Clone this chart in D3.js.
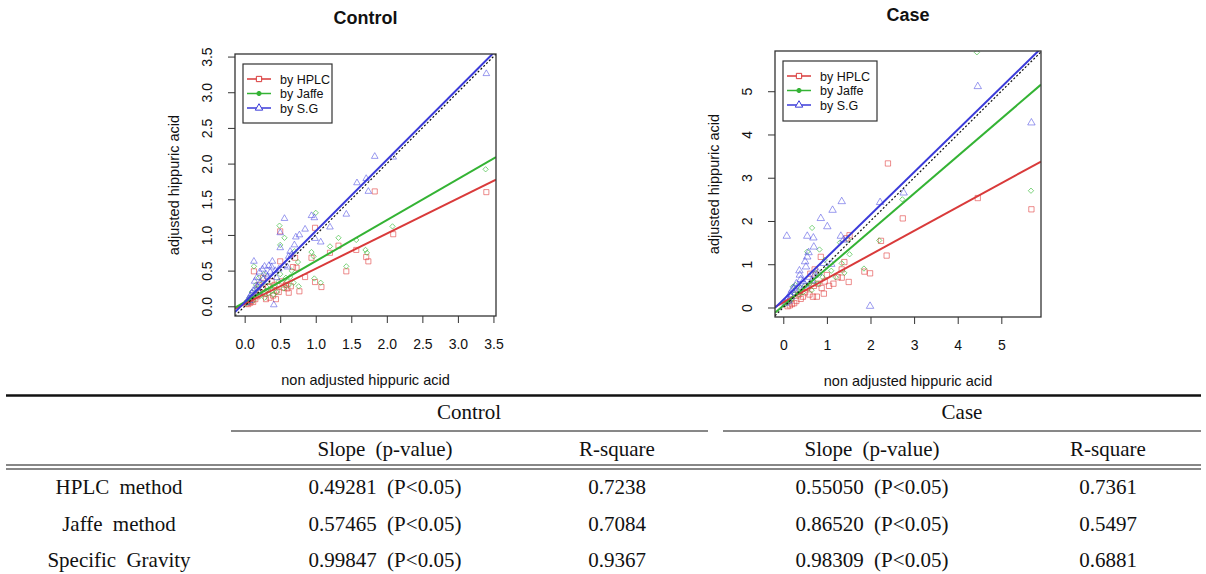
<!DOCTYPE html>
<html>
<head>
<meta charset="utf-8">
<script src="https://cdn.jsdelivr.net/npm/d3@7"></script>
<style>
  body { margin: 0; background: #fff; }
  .plot text { font-family: "Liberation Sans", Arial, sans-serif; fill: #111; }
  .tbl text { font-family: "Liberation Serif", "Times New Roman", serif; font-size: 21px; fill: #111; word-spacing: 5px; }
</style>
</head>
<body>
<div id="chart"></div>
<script>
////////////////////////////////////////////////////////////////////
////////////////////////////  Data  ////////////////////////////////
// points: [non adjusted, adjusted]
const controlHPLC = [[3.40,1.60],[1.83,1.61],[2.09,1.01],[1.57,0.79],[1.71,0.69],[1.74,0.63],[1.32,0.85],[1.43,0.49],[1.20,0.75],[0.94,0.68],[0.99,1.10],[0.99,0.34],[1.08,0.27],[0.50,1.05],[0.50,0.63],[0.71,0.68],[0.85,0.41],[0.77,0.21],[0.62,0.19],[0.13,0.49],[0.73,0.54],[0.68,0.55],[0.55,0.26],[0.45,0.22],[0.40,0.15],[0.30,0.10],[0.28,0.18],[0.35,0.12],[0.25,0.25],[0.20,0.30],[0.18,0.14],[0.15,0.10],[0.12,0.06],[0.08,0.05],[0.05,0.03],[0.10,0.08],[0.22,0.20],[0.33,0.27],[0.42,0.30],[0.48,0.20],[0.58,0.30],[0.65,0.28],[0.38,0.35],[0.60,0.25],[0.03,0.04],[0.07,0.07],[0.16,0.16],[0.26,0.40],[0.52,0.35],[0.44,0.10]];
const controlJaffe = [[3.39,1.92],[2.08,1.12],[1.70,0.79],[1.72,0.75],[1.57,0.93],[1.32,0.96],[1.20,0.84],[1.00,1.31],[0.94,0.76],[0.97,0.70],[0.98,0.39],[1.07,0.33],[1.43,0.56],[0.49,1.13],[0.56,0.96],[0.50,0.86],[0.70,0.77],[0.13,0.56],[0.50,0.45],[0.64,0.41],[0.69,0.33],[0.76,0.28],[0.62,0.30],[0.55,0.25],[0.45,0.20],[0.40,0.16],[0.30,0.22],[0.28,0.12],[0.35,0.30],[0.20,0.40],[0.25,0.32],[0.18,0.25],[0.15,0.18],[0.10,0.20],[0.08,0.10],[0.05,0.06],[0.12,0.08],[0.22,0.15],[0.33,0.18],[0.42,0.27],[0.48,0.35],[0.58,0.40],[0.75,0.62],[0.66,0.50],[0.02,0.04],[0.07,0.12],[0.04,0.08],[0.16,0.30],[0.27,0.45],[0.38,0.22],[0.60,0.35]];
const controlSG = [[3.40,3.26],[1.83,2.10],[2.09,2.09],[1.58,1.73],[1.71,1.79],[1.74,1.61],[1.43,1.29],[1.20,1.11],[0.94,1.27],[0.98,1.24],[0.99,0.95],[1.07,0.90],[0.56,1.23],[0.85,1.08],[0.77,1.00],[0.72,0.97],[0.50,1.03],[0.50,0.82],[0.64,0.77],[0.70,0.86],[0.66,0.72],[0.13,0.63],[0.39,0.63],[0.28,0.56],[0.34,0.57],[0.48,0.52],[0.56,0.57],[0.43,0.50],[0.41,0.02],[0.17,0.40],[0.22,0.33],[0.30,0.45],[0.25,0.52],[0.36,0.48],[0.45,0.40],[0.60,0.55],[0.18,0.28],[0.12,0.22],[0.08,0.15],[0.05,0.10],[0.10,0.18],[0.15,0.25],[0.20,0.20],[0.03,0.05],[0.07,0.08],[0.26,0.38],[0.32,0.42],[0.14,0.35],[0.38,0.55],[0.62,0.70],[0.09,0.12],[0.21,0.48]];

const caseHPLC = [[2.40,3.33],[5.69,2.27],[4.46,2.53],[2.74,2.06],[2.24,1.54],[2.37,1.20],[1.52,1.67],[0.86,1.17],[1.34,0.88],[1.34,0.69],[1.50,0.59],[1.86,0.83],[1.99,0.79],[0.93,0.32],[0.77,0.25],[0.68,0.25],[0.60,0.30],[0.50,0.35],[0.45,0.25],[0.40,0.20],[0.30,0.15],[0.25,0.10],[0.20,0.08],[0.15,0.05],[0.10,0.03],[0.55,0.45],[0.70,0.50],[0.80,0.55],[0.95,0.60],[1.05,0.50],[1.15,0.55],[1.25,0.70],[1.00,0.75],[0.35,0.30],[0.62,0.78],[0.72,0.88],[0.88,0.45],[1.40,1.05],[1.45,1.60]];
const caseJaffe = [[4.44,5.90],[5.68,2.70],[2.73,2.50],[0.66,1.84],[0.83,1.34],[1.34,1.02],[1.52,1.23],[1.85,0.90],[0.55,1.29],[1.49,1.56],[1.30,1.50],[1.00,0.95],[1.10,0.85],[0.90,0.70],[0.70,0.60],[0.60,0.55],[0.50,0.50],[0.40,0.45],[0.30,0.40],[0.25,0.30],[0.20,0.20],[0.15,0.15],[0.10,0.12],[0.05,0.08],[0.35,0.30],[0.45,0.35],[0.75,0.80],[0.28,0.52],[0.22,0.48],[0.65,0.40],[1.20,0.70],[0.80,0.55],[2.20,1.55],[0.95,1.10],[1.40,0.80]];
const caseSG = [[4.46,5.11],[5.69,4.27],[2.76,2.65],[1.34,2.45],[1.13,2.25],[2.22,2.43],[0.86,2.06],[1.01,1.87],[0.08,1.65],[0.55,1.65],[0.69,1.61],[0.70,1.40],[1.32,1.65],[1.38,1.56],[0.58,1.27],[0.55,1.17],[0.50,1.06],[0.52,0.94],[0.37,0.85],[0.38,0.75],[1.99,0.03],[0.93,1.02],[0.72,0.75],[0.60,0.70],[0.45,0.60],[0.30,0.55],[0.25,0.45],[0.20,0.40],[0.15,0.30],[0.10,0.20],[0.05,0.10],[0.35,0.50],[0.40,0.65],[0.80,0.80],[0.65,0.62],[0.28,0.35],[0.18,0.25],[0.12,0.15],[1.10,1.00],[0.50,0.52]];

// regression: slopes from the table, intercepts estimated from the lines
const methods = ["HPLC", "Jaffe", "S.G"];
const rowLabels = ["HPLC method", "Jaffe method", "Specific Gravity"];
const controlSlopes = [0.49281, 0.57465, 0.99847];
const controlIntercepts = [0.034, 0.058, 0.055];
const controlR2 = [0.7238, 0.7084, 0.9367];
const caseSlopes = [0.55050, 0.86520, 0.98309];
const caseIntercepts = [0.12, 0.04, 0.18];
const caseR2 = [0.7361, 0.5497, 0.6881];
const pLabel = "(P<0.05)";

const controlTicks = [0, 0.5, 1, 1.5, 2, 2.5, 3, 3.5];
const caseTicks = [0, 1, 2, 3, 4, 5];

////////////////////////////////////////////////////////////////////
////////////////////////////  Init  ////////////////////////////////
const width = 1206, height = 574;
const lineColors = ["#d93a3a", "#34b334", "#3a3ad9"];
const pointColors = ["rgba(225,60,60,0.65)", "rgba(50,185,50,0.7)", "rgba(70,70,225,0.6)"];
const shapes = [
  d3.symbol().type(d3.symbolSquare).size(26),
  d3.symbol().type(d3.symbolDiamond2 || d3.symbolDiamond).size(18),
  d3.symbol().type(d3.symbolTriangle).size(19)
];

const svg = d3.select("#chart").append("svg")
  .attr("width", width).attr("height", height);

const panels = [
  { id: "control", title: "Control", left: 235, right: 496, top: 54, bottom: 316,
    xDom: [-0.136, 3.536], yDom: [-0.136, 3.536], ticks: controlTicks, fmt: d3.format(".1f"),
    series: [controlHPLC, controlJaffe, controlSG], slopes: controlSlopes, intercepts: controlIntercepts,
    legend: { x: 243, y: 64, w: 89, h: 59 } },
  { id: "case", title: "Case", left: 775, right: 1041, top: 51, bottom: 317,
    xDom: [-0.19, 5.91], yDom: [-0.22, 5.93], ticks: caseTicks, fmt: d3.format("d"),
    series: [caseHPLC, caseJaffe, caseSG], slopes: caseSlopes, intercepts: caseIntercepts,
    legend: { x: 783, y: 61, w: 94, h: 60 } }
];

panels.forEach(drawPanel);
drawTable();

////////////////////////////////////////////////////////////////////
////////////////////////////  Panels  //////////////////////////////
function drawPanel(p) {
  const g = svg.append("g").attr("class", "plot");
  const x = d3.scaleLinear().domain(p.xDom).range([p.left, p.right]);
  const y = d3.scaleLinear().domain(p.yDom).range([p.bottom, p.top]);

  g.append("clipPath").attr("id", "clip-" + p.id)
    .append("rect")
    .attr("x", p.left).attr("y", p.top)
    .attr("width", p.right - p.left).attr("height", p.bottom - p.top);

  const inner = g.append("g").attr("clip-path", `url(#clip-${p.id})`);

  // points
  p.series.forEach((pts, k) => {
    inner.append("g").selectAll("path")
      .data(pts)
      .enter()
      .append("path")
      .attr("transform", (d) => `translate(${x(d[0])},${y(d[1])})`)
      .attr("d", shapes[k])
      .attr("fill", "none")
      .attr("stroke", pointColors[k])
      .attr("stroke-width", 0.9);
  });

  // fitted lines over the whole plot width
  p.slopes.forEach((b, k) => {
    const a = p.intercepts[k];
    inner.append("line")
      .attr("x1", x(p.xDom[0])).attr("y1", y(a + b * p.xDom[0]))
      .attr("x2", x(p.xDom[1])).attr("y2", y(a + b * p.xDom[1]))
      .attr("stroke", lineColors[k])
      .attr("stroke-width", 2);
  });

  // y = x
  inner.append("line")
    .attr("x1", x(p.xDom[0])).attr("y1", y(p.xDom[0]))
    .attr("x2", x(p.xDom[1])).attr("y2", y(p.xDom[1]))
    .attr("stroke", "#111")
    .attr("stroke-width", 1.2)
    .attr("stroke-dasharray", "2,2");

  // box
  g.append("rect")
    .attr("x", p.left).attr("y", p.top)
    .attr("width", p.right - p.left).attr("height", p.bottom - p.top)
    .attr("fill", "none").attr("stroke", "#333").attr("stroke-width", 1.3);

  // axes
  const xAxis = g.append("g")
    .attr("transform", `translate(0,${p.bottom})`)
    .call(d3.axisBottom(x).tickValues(p.ticks).tickFormat(p.fmt).tickSize(7).tickSizeOuter(0).tickPadding(16));
  xAxis.select(".domain").remove();
  xAxis.selectAll("line").attr("stroke", "#333");
  xAxis.selectAll("text").attr("font-size", 14).attr("font-family", "Liberation Sans, Arial").attr("fill", "#111");

  const yAxis = g.append("g")
    .attr("transform", `translate(${p.left},0)`)
    .call(d3.axisLeft(y).tickValues(p.ticks).tickFormat(p.fmt).tickSize(7).tickSizeOuter(0));
  yAxis.select(".domain").remove();
  yAxis.selectAll("line").attr("stroke", "#333");
  yAxis.selectAll("text")
    .attr("x", null).attr("dy", null)
    .attr("text-anchor", "middle")
    .attr("transform", "translate(-23,0) rotate(-90)")
    .attr("font-size", 14).attr("font-family", "Liberation Sans, Arial").attr("fill", "#111");

  // titles and labels
  const cx = (p.left + p.right) / 2;
  const cy = (p.top + p.bottom) / 2;
  g.append("text")
    .attr("x", cx).attr("y", p.top - 30)
    .attr("text-anchor", "middle")
    .attr("font-size", 18).attr("font-weight", "bold")
    .text(p.title);
  g.append("text")
    .attr("x", cx).attr("y", p.bottom + 69)
    .attr("text-anchor", "middle")
    .attr("font-size", 14.5)
    .text("non adjusted hippuric acid");
  g.append("text")
    .attr("transform", `translate(${p.left - 56.5},${cy}) rotate(-90)`)
    .attr("text-anchor", "middle")
    .attr("font-size", 14.5)
    .text("adjusted hippuric acid");

  // legend
  const L = p.legend;
  const lg = g.append("g").attr("transform", `translate(${L.x},${L.y})`);
  lg.append("rect")
    .attr("width", L.w).attr("height", L.h)
    .attr("fill", "#fff").attr("stroke", "#333").attr("stroke-width", 1.2);
  const rows = lg.selectAll("g.row")
    .data(methods)
    .enter()
    .append("g")
    .attr("class", "row")
    .attr("transform", (d, i) => `translate(0,${15 + i * 14.5})`);
  rows.append("line")
    .attr("x1", 4).attr("x2", 28)
    .attr("stroke", (d, i) => lineColors[i])
    .attr("stroke-width", 1.5);
  rows.append("path")
    .attr("transform", "translate(16,0)")
    .attr("d", (d, i) => i === 1
      ? d3.symbol().type(d3.symbolCircle).size(14)()
      : shapes[i].size(i === 0 ? 28 : 24)())
    .attr("fill", (d, i) => i === 1 ? lineColors[1] : "#fff")
    .attr("stroke", (d, i) => lineColors[i])
    .attr("stroke-width", 1);
  rows.append("text")
    .attr("x", 37).attr("dy", "0.36em")
    .attr("font-size", 12.5)
    .text((d) => "by " + d);
}

////////////////////////////////////////////////////////////////////
////////////////////////////  Table  ///////////////////////////////
function drawTable() {
  const t = svg.append("g").attr("class", "tbl");
  const colX = [119, 385, 617, 872, 1108];
  const rowY = [494, 530.5, 567];
  const fSlope = d3.format(".5f");
  const fR2 = d3.format(".4f");

  // rules
  t.append("line").attr("x1", 6).attr("x2", 1201).attr("y1", 395.5).attr("y2", 395.5)
    .attr("stroke", "#111").attr("stroke-width", 2.5);
  t.append("line").attr("x1", 231).attr("x2", 708).attr("y1", 431).attr("y2", 431)
    .attr("stroke", "#111").attr("stroke-width", 1);
  t.append("line").attr("x1", 723).attr("x2", 1201).attr("y1", 431).attr("y2", 431)
    .attr("stroke", "#111").attr("stroke-width", 1);
  [465, 469].forEach((yy) => {
    t.append("line").attr("x1", 6).attr("x2", 1201).attr("y1", yy).attr("y2", yy)
      .attr("stroke", "#111").attr("stroke-width", 1.2);
  });

  // headers
  t.append("text").attr("x", 469).attr("y", 419).attr("text-anchor", "middle").text("Control");
  t.append("text").attr("x", 962).attr("y", 419).attr("text-anchor", "middle").text("Case");
  ["Slope (p-value)", "R-square", "Slope (p-value)", "R-square"].forEach((s, i) => {
    t.append("text").attr("x", colX[i + 1]).attr("y", 456).attr("text-anchor", "middle").text(s);
  });

  // body
  const body = rowLabels.map((lab, i) => [
    lab,
    fSlope(controlSlopes[i]) + " " + pLabel,
    fR2(controlR2[i]),
    fSlope(caseSlopes[i]) + " " + pLabel,
    fR2(caseR2[i])
  ]);
  body.forEach((cells, i) => {
    t.selectAll(null)
      .data(cells)
      .enter()
      .append("text")
      .attr("x", (d, j) => colX[j])
      .attr("y", rowY[i])
      .attr("text-anchor", "middle")
      .text((d) => d);
  });
}
</script>
</body>
</html>
